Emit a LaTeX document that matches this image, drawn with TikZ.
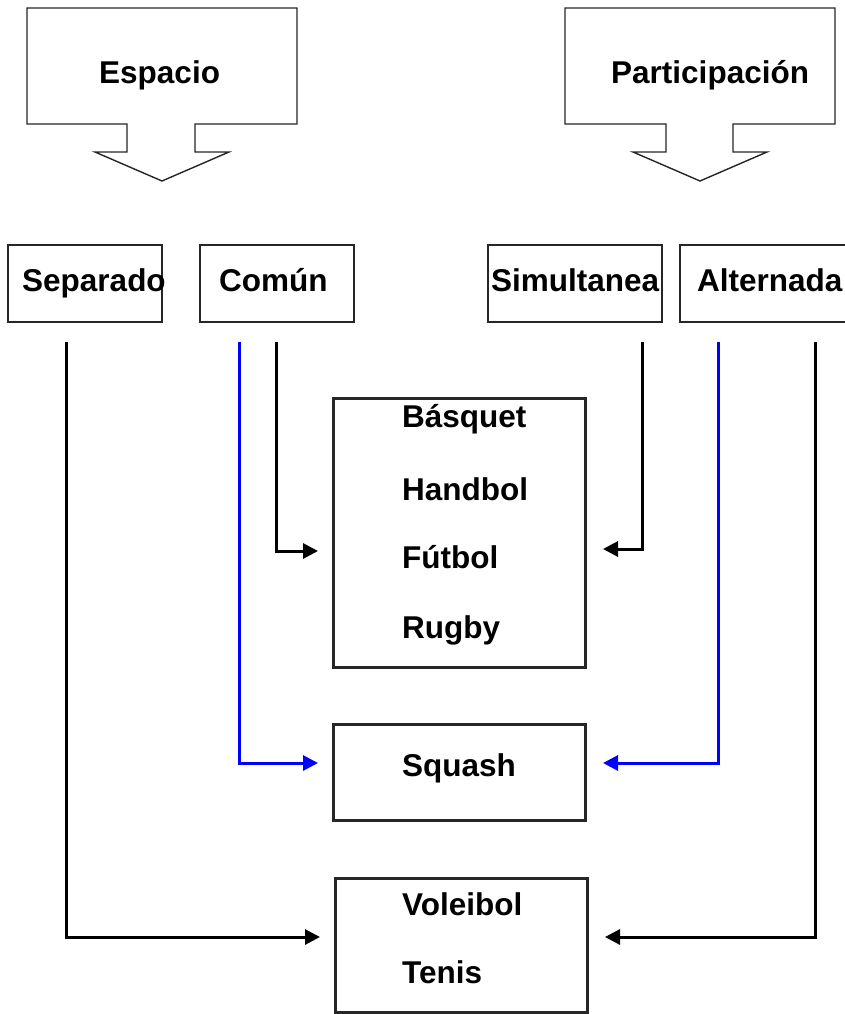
\documentclass[tikz,border=0pt]{standalone}
\usepackage{fontspec}
\setmainfont{Liberation Sans}
\usetikzlibrary{arrows.meta}
\begin{document}
\begin{tikzpicture}[x=1pt,y=-1pt,
  callout/.style={draw=black!85,line width=1.4pt,line join=miter},
  boxa/.style={draw=black!85,line width=2pt,inner sep=0pt},
  boxb/.style={draw=black!85,line width=3pt,inner sep=0pt},
  lbl/.style={font=\fontsize{31.5}{36}\selectfont\bfseries,inner sep=0pt,anchor=base west},
  conn/.style={line width=3pt,-{Triangle[length=15pt,width=15pt]}},
  connb/.style={conn,draw=blue,-{Triangle[length=15pt,width=15pt,fill=blue]}}]
\useasboundingbox (0,0) rectangle (845,1014);
\clip (0,0) rectangle (845,1014);
\fill[white] (0,0) rectangle (845,1014);
% callouts
\draw[callout] (27,8) -- (297,8) -- (297,124) -- (195,124) -- (195,152) -- (229,152) -- (162,181) -- (95,152) -- (127,152) -- (127,124) -- (27,124) -- cycle;
\node[lbl] (esp) at (99,84) {Espacio};
\draw[callout] (565,8) -- (835,8) -- (835,124) -- (733,124) -- (733,152) -- (767,152) -- (700,181) -- (633,152) -- (666,152) -- (666,124) -- (565,124) -- cycle;
\node[lbl] (par) at (611,84) {Participación};
% row boxes
\node[boxa,minimum width=154pt,minimum height=77pt] (sep) at (85,283.5) {};
\node[lbl] (septxt) at (22,291) {Separado};
\node[boxa,minimum width=154pt,minimum height=77pt] (com) at (277,283.5) {};
\node[lbl] (comtxt) at (219,291) {Común};
\node[boxa,minimum width=174pt,minimum height=77pt] (sim) at (575,283.5) {};
\node[lbl] (simtxt) at (491,291) {Simultanea};
\node[boxa,minimum width=190pt,minimum height=77pt] (alt) at (775,283.5) {};
\node[lbl] (alttxt) at (697,291) {Alternada};
% target boxes
\node[boxb,minimum width=252pt,minimum height=269pt] (big) at (459.5,532.5) {};
\node[lbl] (bas) at (402,427) {Básquet};
\node[lbl] (han) at (402,500) {Handbol};
\node[lbl] (fut) at (402,568) {Fútbol};
\node[lbl] (rug) at (402,638) {Rugby};
\node[boxb,minimum width=252pt,minimum height=96pt] (sq) at (459.5,772) {};
\node[lbl] (squ) at (402,776) {Squash};
\node[boxb,minimum width=252pt,minimum height=134pt] (vt) at (461,945) {};
\node[lbl] (vol) at (402,915) {Voleibol};
\node[lbl] (ten) at (402,983) {Tenis};
% connector end points
\coordinate (sepS) at (66,342);
\coordinate (comB) at (239,342);
\coordinate (comK) at (276,342);
\coordinate (simK) at (642,342);
\coordinate (altB) at (718,342);
\coordinate (altK) at (815,342);
\coordinate (bigL) at (318,551);
\coordinate (bigR) at (603,549);
\coordinate (sqL) at (318,763);
\coordinate (sqR) at (603,763);
\coordinate (vtL) at (320,937);
\coordinate (vtR) at (605,937);
% connectors
\draw[conn] (comK) |- (bigL);
\draw[conn] (simK) |- (bigR);
\draw[connb] (comB) |- (sqL);
\draw[connb] (altB) |- (sqR);
\draw[conn] (sepS) |- (vtL);
\draw[conn] (altK) |- (vtR);
\end{tikzpicture}
\end{document}
